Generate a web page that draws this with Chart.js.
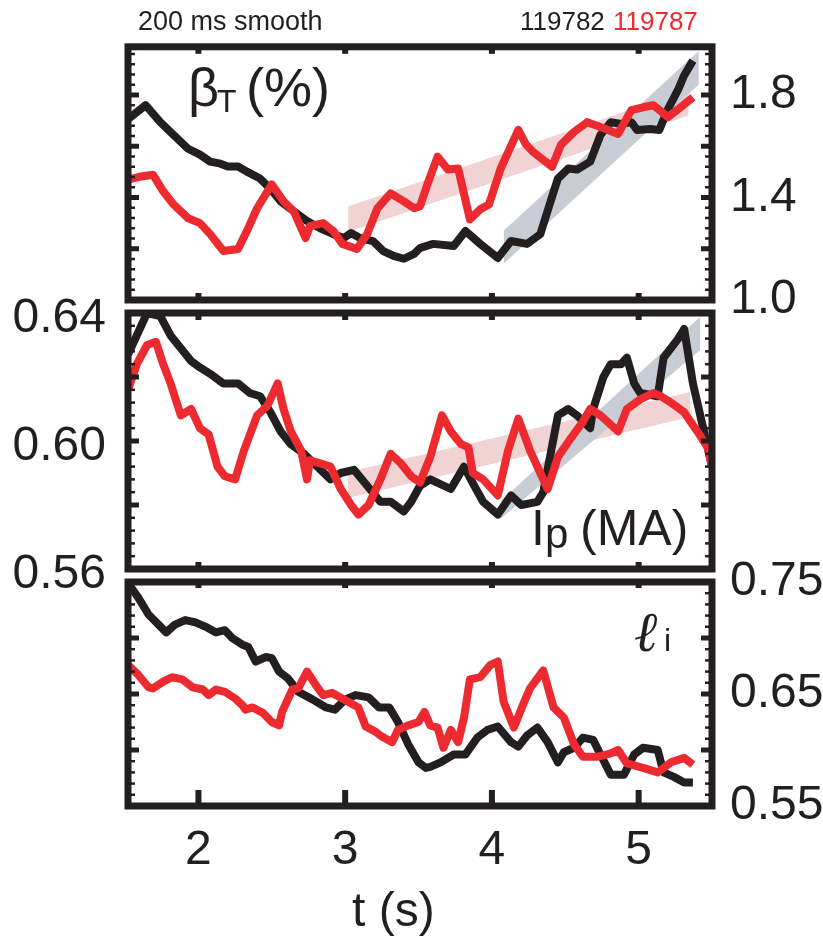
<!DOCTYPE html>
<html>
<head>
<meta charset="utf-8">
<script src="https://cdn.jsdelivr.net/npm/chart.js@4.4.0/dist/chart.umd.min.js"></script>
<style>
  body { margin: 0; background: #fff; }
  #wrap { position: relative; width: 823px; height: 940px; font-family: "Liberation Sans", Arial, "DejaVu Sans", sans-serif; color: #231f20; }
  #wrap canvas { position: absolute; left: 0; top: 0; }
  .lbl { position: absolute; white-space: nowrap; line-height: 1; }
</style>
</head>
<body>
<div id="wrap">
  <canvas id="betaChart" width="823" height="940"></canvas>
  <canvas id="ipChart" width="823" height="940"></canvas>
  <canvas id="liChart" width="823" height="940"></canvas>

  <div class="lbl" style="left:138px;top:8px;font-size:27px">200 ms smooth</div>
  <div class="lbl" style="left:520px;top:8px;font-size:26px">119782</div>
  <div class="lbl" style="left:613px;top:8px;font-size:26px;color:#ec2a2f">119787</div>

  <div class="lbl" style="left:188px;top:60px;font-size:54px">&beta;</div>
  <div class="lbl" style="left:217px;top:85px;font-size:32px">T</div>
  <div class="lbl" style="left:246px;top:60px;font-size:54px">(%)</div>

  <div class="lbl" style="left:531px;top:503px;font-size:50px">I</div>
  <div class="lbl" style="left:545px;top:513px;font-size:42px">p</div>
  <div class="lbl" style="left:580px;top:503px;font-size:50px">(MA)</div>

  <div class="lbl" style="left:634px;top:604px;font-size:56px;font-family:'DejaVu Serif',serif;font-style:italic">&#8467;</div>
  <div class="lbl" style="left:664px;top:624px;font-size:32px">i</div>

  <div class="lbl" style="left:352px;top:886px;font-size:48px">t (s)</div>
</div>

<script>
// time axis shared by the three panels (s)
const tMin = 1.52, tMax = 5.5;
const timeTicks = [2, 3, 4, 5];

// beta_T (%) , top panel
const tBetaBlack = [1.52,1.64,1.74,1.83,1.93,2.01,2.08,2.15,2.20,2.27,2.33,2.42,2.49,2.56,2.65,2.74,2.83,2.92,2.99,3.04,3.10,3.19,3.26,3.33,3.40,3.47,3.51,3.60,3.74,3.82,3.92,4.04,4.13,4.24,4.33,4.40,4.45,4.52,4.58,4.67,4.74,4.81,4.88,4.95,4.99,5.08,5.14,5.20,5.27,5.31,5.37];
const betaBlack = [1.706,1.760,1.694,1.644,1.590,1.567,1.540,1.532,1.521,1.521,1.501,1.474,1.435,1.385,1.346,1.308,1.280,1.257,1.242,1.261,1.242,1.230,1.191,1.172,1.161,1.180,1.203,1.219,1.211,1.269,1.219,1.164,1.230,1.219,1.257,1.385,1.474,1.513,1.509,1.540,1.644,1.694,1.687,1.694,1.663,1.667,1.663,1.745,1.822,1.876,1.934];
const tBetaRed = [1.52,1.61,1.69,1.76,1.83,1.93,2.01,2.08,2.17,2.27,2.33,2.40,2.50,2.58,2.65,2.73,2.76,2.85,2.92,2.98,3.08,3.15,3.22,3.31,3.40,3.47,3.51,3.56,3.63,3.70,3.77,3.85,3.92,3.98,4.06,4.18,4.23,4.28,4.35,4.41,4.47,4.56,4.65,4.74,4.86,4.95,5.03,5.10,5.20,5.27,5.37];
const betaRed = [1.470,1.482,1.489,1.424,1.373,1.319,1.300,1.257,1.191,1.199,1.269,1.358,1.451,1.385,1.346,1.242,1.288,1.300,1.269,1.219,1.199,1.257,1.358,1.416,1.385,1.358,1.366,1.451,1.559,1.509,1.513,1.315,1.354,1.373,1.513,1.664,1.609,1.578,1.547,1.520,1.605,1.656,1.694,1.675,1.648,1.741,1.752,1.760,1.714,1.745,1.791];
// trend bands: [start, end] times with upper / lower edges
const tBetaPink = [3.02, 5.34], betaPinkHi = [1.365, 1.820], betaPinkLo = [1.265, 1.720];
const tBetaGray = [4.08, 5.41], betaGrayHi = [1.270, 1.973], betaGrayLo = [1.141, 1.841];
const betaLabels = [1.0, 1.4, 1.8];
const betaMajor = [1.2, 1.4, 1.6, 1.8];

// Ip (MA), middle panel
const tIpBlack = [1.52,1.58,1.65,1.74,1.81,1.88,1.95,2.01,2.08,2.17,2.27,2.35,2.42,2.49,2.56,2.63,2.72,2.81,2.90,2.97,3.06,3.15,3.24,3.31,3.40,3.45,3.51,3.58,3.72,3.81,3.88,3.94,4.04,4.13,4.20,4.31,4.35,4.45,4.52,4.58,4.67,4.69,4.76,4.81,4.88,4.92,4.97,5.01,5.13,5.17,5.27,5.31,5.37,5.44,5.50];
const ipBlack = [0.627,0.633,0.640,0.639,0.633,0.629,0.625,0.623,0.621,0.618,0.618,0.615,0.614,0.609,0.603,0.599,0.596,0.592,0.588,0.590,0.591,0.586,0.581,0.581,0.578,0.581,0.586,0.588,0.585,0.592,0.586,0.581,0.577,0.583,0.580,0.581,0.584,0.608,0.610,0.608,0.604,0.610,0.620,0.624,0.624,0.626,0.618,0.615,0.614,0.626,0.632,0.635,0.618,0.604,0.592];
const tIpRed = [1.52,1.58,1.65,1.71,1.76,1.81,1.88,1.95,2.01,2.07,2.13,2.18,2.25,2.31,2.40,2.47,2.54,2.58,2.63,2.70,2.74,2.76,2.83,2.90,2.97,3.04,3.09,3.16,3.24,3.31,3.38,3.45,3.51,3.58,3.66,3.72,3.79,3.84,3.87,3.94,4.04,4.11,4.18,4.26,4.38,4.45,4.54,4.62,4.67,4.74,4.86,4.92,5.01,5.10,5.15,5.22,5.31,5.40,5.47,5.50];
const ipRed = [0.616,0.624,0.630,0.631,0.624,0.618,0.608,0.610,0.604,0.602,0.592,0.589,0.588,0.597,0.608,0.611,0.618,0.610,0.603,0.597,0.588,0.594,0.593,0.592,0.585,0.580,0.577,0.580,0.588,0.596,0.593,0.589,0.587,0.595,0.608,0.603,0.599,0.598,0.590,0.588,0.583,0.597,0.607,0.597,0.585,0.595,0.601,0.606,0.610,0.608,0.603,0.610,0.613,0.615,0.614,0.612,0.609,0.603,0.598,0.592];
const tIpPink = [3.02, 5.35], ipPinkHi = [0.5903, 0.6153], ipPinkLo = [0.5822, 0.6075];
const tIpGray = [4.06, 5.42], ipGrayHi = [0.5812, 0.6388], ipGrayLo = [0.5757, 0.6284];
const ipLabels = [0.56, 0.60, 0.64];
const ipMajor = [0.58, 0.60, 0.62];

// li, bottom panel
const tLiBlack = [1.52,1.59,1.66,1.78,1.84,1.91,1.98,2.05,2.12,2.18,2.23,2.30,2.34,2.39,2.46,2.50,2.55,2.61,2.68,2.78,2.87,2.93,3.00,3.07,3.16,3.23,3.30,3.36,3.43,3.50,3.55,3.58,3.65,3.74,3.82,3.90,3.97,4.04,4.13,4.18,4.24,4.31,4.38,4.45,4.49,4.56,4.62,4.69,4.74,4.81,4.90,4.97,5.03,5.13,5.17,5.24,5.31,5.37];
const liBlack = [0.749,0.736,0.721,0.705,0.712,0.716,0.714,0.710,0.705,0.707,0.700,0.694,0.692,0.679,0.683,0.682,0.670,0.664,0.652,0.645,0.638,0.636,0.645,0.649,0.647,0.638,0.638,0.625,0.605,0.589,0.584,0.585,0.589,0.596,0.596,0.611,0.618,0.621,0.607,0.603,0.613,0.620,0.607,0.589,0.598,0.602,0.611,0.609,0.596,0.578,0.578,0.596,0.602,0.600,0.580,0.576,0.571,0.571];
const tLiRed = [1.52,1.59,1.66,1.69,1.76,1.82,1.89,1.96,2.03,2.07,2.12,2.18,2.25,2.30,2.32,2.37,2.44,2.50,2.55,2.57,2.64,2.68,2.74,2.80,2.85,2.91,2.98,3.02,3.09,3.14,3.21,3.25,3.32,3.36,3.43,3.50,3.54,3.58,3.63,3.67,3.72,3.77,3.81,3.85,3.92,3.99,4.04,4.08,4.15,4.22,4.26,4.31,4.35,4.42,4.49,4.56,4.62,4.72,4.81,4.86,4.92,5.03,5.13,5.22,5.31,5.37];
const liRed = [0.676,0.667,0.656,0.655,0.661,0.665,0.663,0.656,0.654,0.649,0.654,0.652,0.646,0.640,0.636,0.638,0.633,0.625,0.622,0.634,0.654,0.655,0.670,0.658,0.649,0.651,0.646,0.643,0.638,0.621,0.616,0.612,0.607,0.618,0.622,0.625,0.634,0.622,0.620,0.602,0.618,0.607,0.629,0.663,0.665,0.676,0.679,0.643,0.620,0.643,0.655,0.664,0.671,0.638,0.629,0.605,0.594,0.594,0.597,0.600,0.588,0.584,0.580,0.589,0.593,0.587];
const liLabels = [0.55, 0.65, 0.75];
const liMajor = [0.60, 0.65, 0.70];

const INK = '#231f20';
const RED = '#ec2a2f';
const PINK = '#f2d3d3';
const GRAY = '#c8ccd5';

Chart.defaults.font.family = '"Liberation Sans", Arial, sans-serif';
Chart.defaults.color = INK;

const pts = (ts, vs) => ts.map((t, i) => ({ x: t, y: vs[i] }));

function trace(ts, vs, color, order) {
  return { data: pts(ts, vs), borderColor: color, borderWidth: 8, pointRadius: 0,
           tension: 0, fill: false, order, borderJoinStyle: 'round', borderCapStyle: 'butt' };
}
function edge(ts, vs, color, fillTo, order) {
  return { data: pts(ts, vs), borderColor: 'rgba(0,0,0,0)', borderWidth: 1, pointRadius: 0,
           backgroundColor: color, fill: fillTo, order };
}

// frame with inward ticks on all four sides
const framePlugin = {
  id: 'frame',
  afterDatasetsDraw(chart, args, o) {
    const { ctx, chartArea: a, scales } = chart;
    const ys = scales.y, xs = scales.x;
    const mark = (x0, y0, x1, y1, w) => {
      ctx.lineWidth = w;
      ctx.beginPath(); ctx.moveTo(x0, y0); ctx.lineTo(x1, y1); ctx.stroke();
    };
    ctx.save();
    ctx.strokeStyle = INK;
    ctx.lineCap = 'butt';
    for (let v = ys.min + o.minorStep; v < ys.max - 1e-9; v += o.minorStep) {
      const y = ys.getPixelForValue(v);
      mark(a.left, y, a.left + 7, y, 2.5);
      mark(a.right, y, a.right - 7, y, 2.5);
    }
    o.major.forEach(v => {
      const y = ys.getPixelForValue(v);
      mark(a.left, y, a.left + 11, y, 5);
      mark(a.right, y, a.right - 11, y, 5);
    });
    timeTicks.forEach(t => {
      const x = xs.getPixelForValue(t);
      mark(x, a.top, x, a.top + o.topLen, 6);
      mark(x, a.bottom, x, a.bottom - o.bottomLen, 6);
    });
    ctx.lineWidth = 7;
    ctx.strokeRect(a.left, a.top, a.right - a.left, a.bottom - a.top);
    ctx.restore();
  }
};

function makePanel(id, datasets, y, padding, frame, xShow) {
  return new Chart(document.getElementById(id), {
    type: 'line',
    data: { datasets },
    options: {
      responsive: false,
      animation: false,
      layout: { padding },
      plugins: { legend: { display: false }, tooltip: { enabled: false }, frame },
      scales: {
        x: {
          type: 'linear', min: tMin, max: tMax, display: xShow, position: 'bottom',
          grid: { display: false, drawTicks: false }, border: { display: false },
          ticks: { font: { size: 48 }, color: INK, padding: 16, maxRotation: 0, callback: v => String(v) },
          afterBuildTicks: s => { s.ticks = timeTicks.map(v => ({ value: v })); },
          afterFit: s => { s.height = xShow ? 134 : 0; }
        },
        y: Object.assign({
          type: 'linear',
          grid: { display: false, drawTicks: false }, border: { display: false }
        }, y)
      }
    },
    plugins: [framePlugin]
  });
}

makePanel('betaChart', [
  trace(tBetaRed, betaRed, RED, 0),
  trace(tBetaBlack, betaBlack, INK, 1),
  edge(tBetaGray, betaGrayHi, GRAY, 3, 2),
  edge(tBetaGray, betaGrayLo, GRAY, false, 3),
  edge(tBetaPink, betaPinkHi, PINK, 5, 4),
  edge(tBetaPink, betaPinkLo, PINK, false, 5)
], {
  position: 'right', min: 1.0, max: 1.988,
  ticks: { font: { size: 48 }, color: INK, padding: 18, callback: v => v.toFixed(1) },
  afterBuildTicks: s => { s.ticks = betaLabels.map(v => ({ value: v })); },
  afterFit: s => { s.width = 111; }
}, { left: 128, top: 44, right: 0, bottom: 640 },
{ major: betaMajor, minorStep: 0.04, topLen: 7, bottomLen: 7 }, false);

makePanel('ipChart', [
  trace(tIpRed, ipRed, RED, 0),
  trace(tIpBlack, ipBlack, INK, 1),
  edge(tIpGray, ipGrayHi, GRAY, 3, 2),
  edge(tIpGray, ipGrayLo, GRAY, false, 3),
  edge(tIpPink, ipPinkHi, PINK, 5, 4),
  edge(tIpPink, ipPinkLo, PINK, false, 5)
], {
  position: 'left', min: 0.56, max: 0.64,
  ticks: { font: { size: 48 }, color: INK, padding: 22, labelOffset: 6, callback: v => v.toFixed(2) },
  afterBuildTicks: s => { s.ticks = ipLabels.map(v => ({ value: v })); },
  afterFit: s => { s.width = 128; }
}, { left: 0, top: 313, right: 111, bottom: 371 },
{ major: ipMajor, minorStep: 0.004, topLen: 7, bottomLen: 7 }, false);

makePanel('liChart', [
  trace(tLiRed, liRed, RED, 0),
  trace(tLiBlack, liBlack, INK, 1)
], {
  position: 'right', min: 0.55, max: 0.75,
  ticks: { font: { size: 48 }, color: INK, padding: 18, callback: v => v.toFixed(2) },
  afterBuildTicks: s => { s.ticks = liLabels.map(v => ({ value: v })); },
  afterFit: s => { s.width = 111; }
}, { left: 128, top: 582, right: 0, bottom: 0 },
{ major: liMajor, minorStep: 0.01, topLen: 6, bottomLen: 16 }, true);
</script>
</body>
</html>
